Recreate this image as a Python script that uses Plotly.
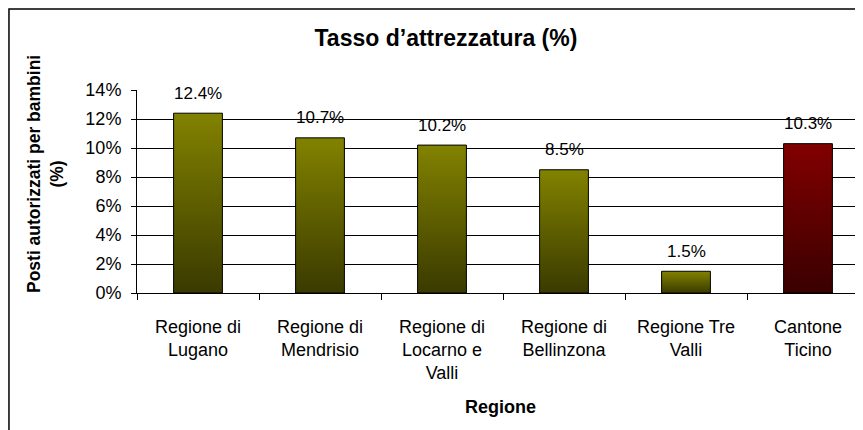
import plotly.graph_objects as go

# ── Dati ──────────────────────────────────────────────────────────────────
regioni = [
    "Regione di<br>Lugano",
    "Regione di<br>Mendrisio",
    "Regione di<br>Locarno e<br>Valli",
    "Regione di<br>Bellinzona",
    "Regione Tre<br>Valli",
    "Cantone<br>Ticino",
]
tasso = [0.124, 0.107, 0.102, 0.085, 0.015, 0.103]
etichette = ["12.4%", "10.7%", "10.2%", "8.5%", "1.5%", "10.3%"]
y_ticks = [0, 0.02, 0.04, 0.06, 0.08, 0.10, 0.12, 0.14]

# Colori (gradiente verticale: basso -> alto)
OLIVA = [[0, "#3a3a00"], [1, "#828200"]]
ROSSO = [[0, "#3a0000"], [1, "#820000"]]
FONT = "Liberation Sans, Arial, sans-serif"

W = 0.2  # mezza larghezza barra
xs = list(range(len(regioni)))

fig = go.Figure()

for i, v in zip(xs, tasso):
    scala = ROSSO if i == len(regioni) - 1 else OLIVA
    fig.add_trace(go.Scatter(
        x=[i - W, i + W, i + W, i - W, i - W],
        y=[0, 0, v, v, 0],
        mode="lines",
        fill="toself",
        fillgradient=dict(type="vertical", colorscale=scala),
        line=dict(color="black", width=1),
        hoverinfo="skip",
        showlegend=False,
    ))

# Etichette sopra le barre
for i, v, t in zip(xs, tasso, etichette):
    fig.add_annotation(
        x=i, y=v, text=t, showarrow=False,
        yanchor="middle", yshift=20,
        font=dict(family=FONT, size=17, color="black"),
    )

fig.update_layout(
    width=863, height=430,
    paper_bgcolor="white", plot_bgcolor="white",
    margin=dict(l=129, r=2, t=82, b=145),
    font=dict(family=FONT, size=18, color="black"),
    title=dict(
        text="<b>Tasso d’attrezzatura (%)</b>",
        x=0.5075, xanchor="center", y=0.930, yanchor="middle",
        font=dict(size=23, family=FONT, color="black"),
    ),
)

fig.update_xaxes(
    range=[-0.5, 5.5],
    tickvals=xs, ticktext=regioni,
    ticks="", ticklabelstandoff=17,
    showline=True, linecolor="black", linewidth=1,
    showgrid=False, zeroline=False,
    minor=dict(tickvals=[-0.5, 0.5, 1.5, 2.5, 3.5, 4.5], ticks="outside",
               ticklen=6, tickcolor="black", showgrid=False),
    tickfont=dict(size=18),
)
fig.update_yaxes(
    range=[0, 0.14],
    tickvals=y_ticks, tickformat=".0%",
    ticks="outside", ticklen=5, tickcolor="black",
    ticklabelstandoff=6,
    showline=True, linecolor="black", linewidth=1,
    showgrid=True, gridcolor="black", gridwidth=1,
    zeroline=False,
    tickfont=dict(size=18),
)

# Titoli degli assi
fig.add_annotation(
    text="<b>Posti autorizzati per bambini<br>(%)</b>",
    xref="paper", yref="paper", x=-0.1257, y=0.586,
    textangle=-90, showarrow=False, xanchor="center", yanchor="middle",
    font=dict(size=17.5, family=FONT),
)
fig.add_annotation(
    text="<b>Regione</b>",
    xref="paper", yref="paper", x=0.496, y=-0.5616,
    showarrow=False, xanchor="center", yanchor="middle",
    font=dict(size=18, family=FONT),
)

# Cornice esterna
fig.add_shape(
    type="rect", xref="paper", yref="paper",
    x0=-0.1749, y0=-1.0, x1=1.2, y1=1.399,
    line=dict(color="black", width=1.5), fillcolor="rgba(0,0,0,0)",
    layer="below",
)

fig.write_html("out.html")
